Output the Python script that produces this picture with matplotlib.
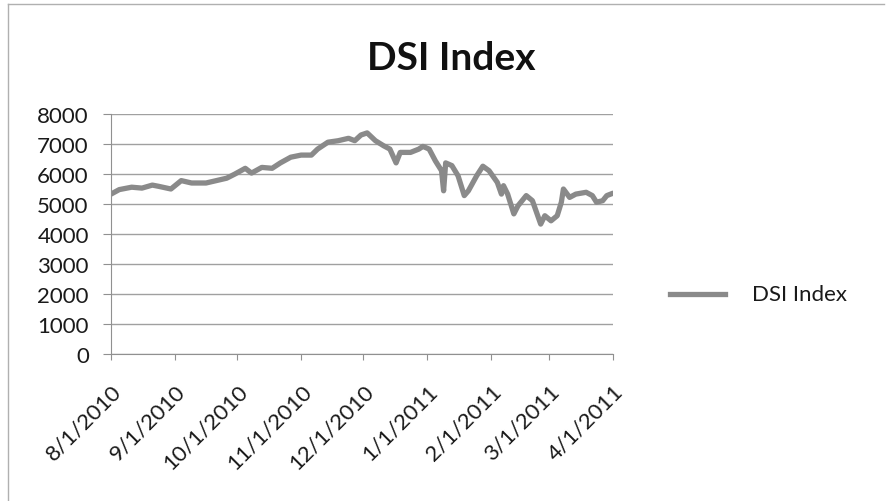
import matplotlib
matplotlib.use("Agg")
import matplotlib.pyplot as plt
from matplotlib.lines import Line2D
import pandas as pd

dates = ["2010-08-01", "2010-08-05", "2010-08-11", "2010-08-16", "2010-08-21", "2010-08-24",
         "2010-08-28", "2010-08-30", "2010-09-04", "2010-09-09", "2010-09-16", "2010-09-21",
         "2010-09-26", "2010-09-30", "2010-10-05", "2010-10-08", "2010-10-13", "2010-10-18",
         "2010-10-22", "2010-10-27", "2010-11-01", "2010-11-06", "2010-11-09", "2010-11-14",
         "2010-11-19", "2010-11-24", "2010-11-27", "2010-11-30", "2010-12-03", "2010-12-07",
         "2010-12-11", "2010-12-14", "2010-12-17", "2010-12-19", "2010-12-24", "2010-12-28",
         "2010-12-30", "2011-01-02", "2011-01-05", "2011-01-08", "2011-01-09", "2011-01-10",
         "2011-01-13", "2011-01-16", "2011-01-19", "2011-01-21", "2011-01-25", "2011-01-28",
         "2011-01-31", "2011-02-04", "2011-02-06", "2011-02-07", "2011-02-09", "2011-02-12",
         "2011-02-14", "2011-02-18", "2011-02-21", "2011-02-23", "2011-02-25", "2011-02-27",
         "2011-03-02", "2011-03-05", "2011-03-07", "2011-03-08", "2011-03-11", "2011-03-14",
         "2011-03-19", "2011-03-22", "2011-03-24", "2011-03-27", "2011-03-29", "2011-04-01"]
values = [5330, 5480, 5560, 5530, 5630, 5590,
          5530, 5500, 5780, 5700, 5700, 5780,
          5860, 6000, 6190, 6030, 6220, 6190,
          6370, 6560, 6630, 6630, 6830, 7060,
          7110, 7190, 7110, 7300, 7370, 7110,
          6940, 6830, 6370, 6720, 6720, 6830,
          6920, 6830, 6440, 6110, 5440, 6370,
          6280, 5940, 5280, 5440, 5940, 6260,
          6110, 5720, 5330, 5610, 5330, 4670,
          4940, 5280, 5110, 4720, 4330, 4610,
          4440, 4610, 5060, 5500, 5220, 5330,
          5390, 5280, 5060, 5110, 5280, 5360]
tick_dates = ["2010-08-01", "2010-09-01", "2010-10-01", "2010-11-01", "2010-12-01",
              "2011-01-01", "2011-02-01", "2011-03-01", "2011-04-01"]
tick_labels = ["8/1/2010", "9/1/2010", "10/1/2010", "11/1/2010", "12/1/2010",
               "1/1/2011", "2/1/2011", "3/1/2011", "4/1/2011"]
y_ticks = [0, 1000, 2000, 3000, 4000, 5000, 6000, 7000, 8000]
series_name = "DSI Index"

plt.rcParams['font.family'] = ['Lato', 'DejaVu Sans']

W, H = 886, 502
fig = plt.figure(figsize=(W / 100, H / 100), dpi=100)
fig.patch.set_facecolor("white")

# outer frame
fig.add_artist(Line2D([8 / W, 8 / W], [0, 1 - 5 / H], color="#b0b0b0", lw=1))
fig.add_artist(Line2D([8 / W, 884 / W], [1 - 5 / H, 1 - 5 / H], color="#b0b0b0", lw=1))

ax = fig.add_axes([111 / W, 1 - 355 / H, 502 / W, 240 / H])
x = pd.to_datetime(dates)
ax.plot(x, values, color="#8a8a8a", lw=3.8, solid_joinstyle="round", solid_capstyle="round")

ax.set_xlim(pd.Timestamp("2010-08-01"), pd.Timestamp("2011-04-01"))
ax.set_ylim(0, 8000)
ax.set_yticks(y_ticks)
ax.set_yticklabels([str(v) for v in y_ticks], fontsize=16, color="#1a1a1a")
ax.set_xticks(pd.to_datetime(tick_dates))
ax.set_xticklabels(tick_labels, rotation=45, ha="right", rotation_mode="anchor",
                   fontsize=16, color="#1a1a1a")

ax.grid(axis="y", color="#a0a0a0", lw=1)
ax.set_axisbelow(True)
for s in ["top", "right"]:
    ax.spines[s].set_visible(False)
ax.spines["left"].set_color("#909090")
ax.spines["bottom"].set_color("#909090")
ax.tick_params(axis="y", length=6, color="#909090", pad=10)
ax.tick_params(axis="x", length=4, color="#909090", pad=15)

fig.text(451 / W, 1 - 58 / H, "DSI Index", ha="center", va="center",
         fontsize=28, fontweight="bold", color="#111111")

fig.add_artist(Line2D([670 / W, 725 / W], [1 - 295 / H, 1 - 295 / H], color="#8a8a8a", lw=3.8))
fig.text(752 / W, 1 - 295 / H, series_name, ha="left", va="center", fontsize=16,
         color="#1a1a1a")

fig.savefig("out.png", dpi=100)
